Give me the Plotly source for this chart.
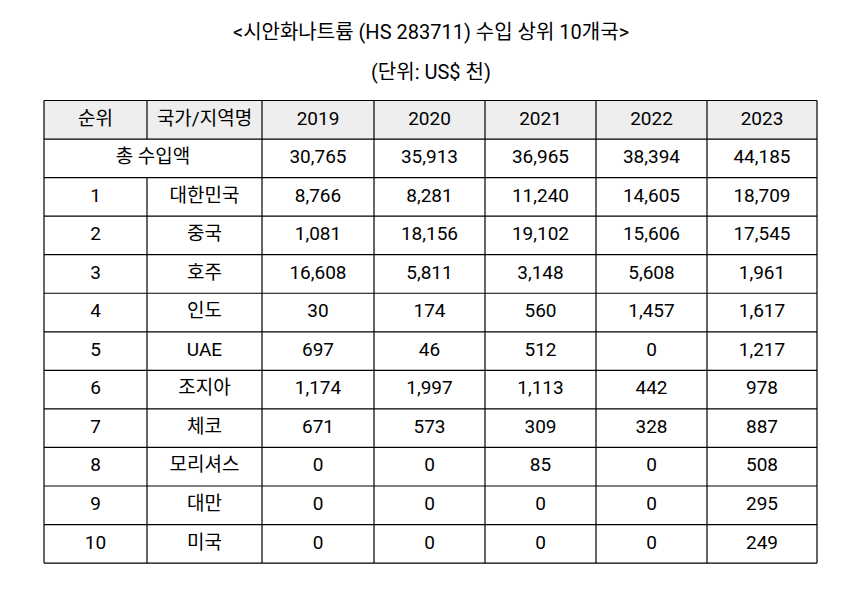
import plotly.graph_objects as go

# ---- data ----
title_text = "&lt;시안화나트륨 (HS 283711) 수입 상위 10개국&gt;"
subtitle_text = "(단위: US$ 천)"
header = ["순위", "국가/지역명", "2019", "2020", "2021", "2022", "2023"]
total_label = "총 수입액"
total = [30765, 35913, 36965, 38394, 44185]
ranks = ["1", "2", "3", "4", "5", "6", "7", "8", "9", "10"]
countries = ["대한민국", "중국", "호주", "인도", "UAE", "조지아", "체코", "모리셔스", "대만", "미국"]
v2019 = [8766, 1081, 16608, 30, 697, 1174, 671, 0, 0, 0]
v2020 = [8281, 18156, 5811, 174, 46, 1997, 573, 0, 0, 0]
v2021 = [11240, 19102, 3148, 560, 512, 1113, 309, 85, 0, 0]
v2022 = [14605, 15606, 5608, 1457, 0, 442, 328, 0, 0, 0]
v2023 = [18709, 17545, 1961, 1617, 1217, 978, 887, 508, 295, 249]

# ---- layout geometry (page pixel space; page body has 8px margin) ----
W, H = 853, 608
OFF = 8
col_edges = [44, 147, 262, 374, 485, 596, 707, 817]
top = 100.5
row_h = 38.55
n_rows = 2 + len(ranks)
row_edges = [top + i * row_h for i in range(n_rows + 1)]
FONT = "Roboto, 'Noto Sans CJK KR', sans-serif"
FS = 19

def centers(edges):
    return [(edges[i] + edges[i + 1]) / 2 for i in range(len(edges) - 1)]

cx = centers(col_edges)
cy = centers(row_edges)

fig = go.Figure()

def add_text(xs, ys, texts):
    fig.add_trace(go.Scatter(
        x=xs, y=ys, text=texts, mode="text",
        textfont=dict(family=FONT, size=FS, color="#000000"),
        textposition="middle center", hoverinfo="skip", showlegend=False,
    ))

# header
add_text(cx, [cy[0]] * len(header), header)
# total row (merged first two columns)
add_text([(col_edges[0] + col_edges[2]) / 2] + cx[2:], [cy[1]] * 6,
         [total_label] + [f"{v:,}" for v in total])
# country rows
series = [v2019, v2020, v2021, v2022, v2023]
for i in range(len(ranks)):
    row = [ranks[i], countries[i]] + [f"{s[i]:,}" for s in series]
    add_text(cx, [cy[i + 2]] * len(row), row)

shapes = []
# header fill
shapes.append(dict(type="rect", xref="x", yref="y", x0=col_edges[0], x1=col_edges[-1],
                   y0=row_edges[0], y1=row_edges[1], fillcolor="#eeeeee",
                   line=dict(width=0), layer="below"))
line = dict(color="#000000", width=1.2)
for y in row_edges:
    shapes.append(dict(type="line", xref="x", yref="y", x0=col_edges[0], x1=col_edges[-1],
                       y0=y, y1=y, line=line))
for j, x in enumerate(col_edges):
    if j == 1:
        # skip the merged total-row segment
        shapes.append(dict(type="line", xref="x", yref="y", x0=x, x1=x,
                           y0=row_edges[0], y1=row_edges[1], line=line))
        shapes.append(dict(type="line", xref="x", yref="y", x0=x, x1=x,
                           y0=row_edges[2], y1=row_edges[-1], line=line))
    else:
        shapes.append(dict(type="line", xref="x", yref="y", x0=x, x1=x,
                           y0=row_edges[0], y1=row_edges[-1], line=line))

annotations = [
    dict(x=430.5, y=32, xref="x", yref="y", text=title_text, showarrow=False,
         font=dict(family=FONT, size=20, color="#000000")),
    dict(x=431, y=72, xref="x", yref="y", text=subtitle_text, showarrow=False,
         font=dict(family=FONT, size=20, color="#000000")),
]

fig.update_layout(
    width=W - 2 * OFF, height=H - 2 * OFF, margin=dict(l=0, r=0, t=0, b=0),
    paper_bgcolor="white", plot_bgcolor="white",
    xaxis=dict(range=[OFF, W - OFF], visible=False, fixedrange=True),
    yaxis=dict(range=[H - OFF, OFF], visible=False, fixedrange=True),
    shapes=shapes, annotations=annotations, showlegend=False,
)

fig.write_html("out.html")
